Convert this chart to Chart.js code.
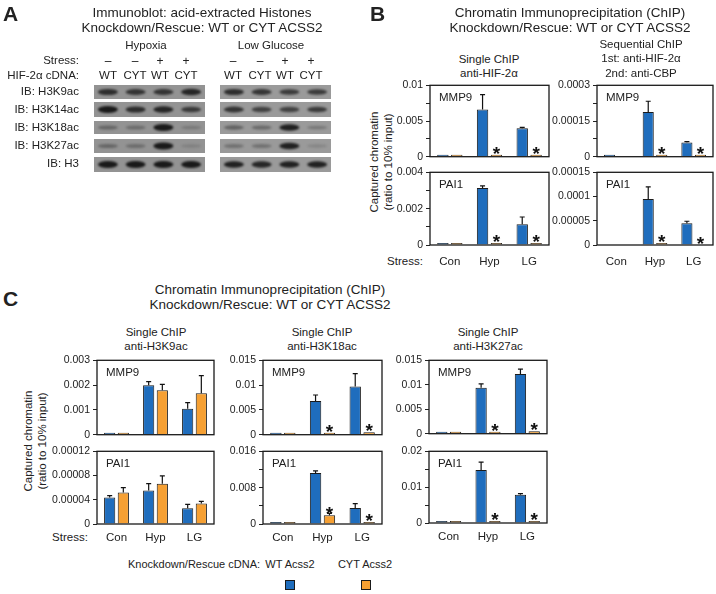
<!DOCTYPE html>
<html>
<head>
<meta charset="utf-8">
<script src="https://cdn.jsdelivr.net/npm/chart.js@4.4.1/dist/chart.umd.min.js"></script>
<style>
  body { margin: 0; background: #fff; }
  #fig { position: relative; width: 716px; height: 594px; overflow: hidden; font-family: "Liberation Sans", Arial, sans-serif; color: #222; }
  #fig canvas { position: absolute; }
  .t { position: absolute; white-space: nowrap; line-height: 1; }
</style>
</head>
<body>
<div id="fig">
  <canvas id="blot" width="340" height="180" style="left:0;top:0"></canvas>
</div>
<script>
// ---- data ----
var stressCats = ["Con", "Hyp", "LG"];

// panel A: band strength per lane (0..1), lanes WT, CYT, WT, CYT
var blotRows = ["IB: H3K9ac", "IB: H3K14ac", "IB: H3K18ac", "IB: H3K27ac", "IB: H3"];
var hypoxiaBands = [[0.8, 0.75, 0.75, 0.85], [0.95, 0.8, 0.85, 0.7], [0.35, 0.3, 0.95, 0.2], [0.35, 0.3, 0.95, 0.15], [1, 1, 1, 1]];
var glucoseBands = [[0.8, 0.75, 0.7, 0.7], [0.75, 0.65, 0.65, 0.7], [0.4, 0.35, 0.9, 0.25], [0.3, 0.3, 0.9, 0.15], [0.9, 0.85, 0.9, 0.9]];

// panel B: anti-HIF-2a single ChIP
var bHifMmp9WT = [0.00005, 0.0066, 0.004];
var bHifMmp9WTErr = [0, 0.0021, 0.0001];
var bHifMmp9CYT = [0.00005, 0.0001, 0.00015];
var bHifMmp9Ticks = ["0", "0.005", "0.01"];
var bHifPai1WT = [0.00003, 0.00313, 0.00114];
var bHifPai1WTErr = [0, 0.00012, 0.0004];
var bHifPai1CYT = [0.00002, 0.00005, 0.00002];
var bHifPai1Ticks = ["0", "0.002", "0.004"];
// panel B: sequential ChIP HIF-2a then CBP
var bSeqMmp9WT = [0.000003, 0.000188, 0.00006];
var bSeqMmp9WTErr = [0, 0.000045, 0.000003];
var bSeqMmp9CYT = [null, 0.000003, 0.000002];
var bSeqMmp9Ticks = ["0", "0.00015", "0.0003"];
var bSeqPai1WT = [null, 0.000095, 0.000045];
var bSeqPai1WTErr = [0, 0.000025, 0.000004];
var bSeqPai1CYT = [null, 0.000003, null];
var bSeqPai1Ticks = ["0", "0.00005", "0.0001", "0.00015"];

// panel C: histone acetylation ChIP
var cK9Mmp9WT = [0.00002, 0.00199, 0.00105];
var cK9Mmp9WTErr = [0, 0.00015, 0.00024];
var cK9Mmp9CYT = [0.00002, 0.00179, 0.00167];
var cK9Mmp9CYTErr = [0, 0.00024, 0.00071];
var cK9Mmp9Ticks = ["0", "0.001", "0.002", "0.003"];
var cK9Pai1WT = [0.0000438, 0.0000551, 0.000026];
var cK9Pai1WTErr = [0.000003, 0.0000114, 0.0000064];
var cK9Pai1CYT = [0.0000519, 0.0000665, 0.000034];
var cK9Pai1CYTErr = [0.000008, 0.000013, 0.0000033];
var cK9Pai1Ticks = ["0", "0.00004", "0.00008", "0.00012"];

var cK18Mmp9WT = [0.0001, 0.0068, 0.0097];
var cK18Mmp9WTErr = [0, 0.0012, 0.0026];
var cK18Mmp9CYT = [0.0001, 0.0003, 0.0005];
var cK18Mmp9Ticks = ["0", "0.005", "0.01", "0.015"];
var cK18Pai1WT = [0.0001, 0.0112, 0.0035];
var cK18Pai1WTErr = [0, 0.0005, 0.001];
var cK18Pai1CYT = [0.0001, 0.00195, 0.0002];
var cK18Pai1CYTErr = [0, 0.0004, 0];
var cK18Pai1Ticks = ["0", "0.008", "0.016"];

var cK27Mmp9WT = [0.00005, 0.0094, 0.0122];
var cK27Mmp9WTErr = [0, 0.0008, 0.001];
var cK27Mmp9CYT = [0.00005, 0.0001, 0.0005];
var cK27Mmp9Ticks = ["0", "0.005", "0.01", "0.015"];
var cK27Pai1WT = [0.0001, 0.0148, 0.0079];
var cK27Pai1WTErr = [0, 0.0022, 0.0003];
var cK27Pai1CYT = [0.0001, 0.0003, 0.0005];
var cK27Pai1Ticks = ["0", "0.01", "0.02"];

var noErr = [0, 0, 0];
var starsHypLG = [false, true, true];
var noStars = [false, false, false];

var BLUE = "#1f6dbd", ORANGE = "#f6a033", EDGE = "#1c1c1c";
var fig = document.getElementById("fig");

function txt(s, x, y, size, align, weight) {
  var d = document.createElement("div");
  d.className = "t";
  d.textContent = s;
  d.style.left = x + "px";
  d.style.top = y + "px";
  d.style.fontSize = size + "px";
  if (weight) d.style.fontWeight = weight;
  var tx = align == "right" ? "-100%" : align == "left" ? "0" : "-50%";
  d.style.transform = "translate(" + tx + ",-50%)";
  fig.appendChild(d);
  return d;
}

function ytitle(x, y) {
  var d = document.createElement("div");
  d.className = "t";
  d.innerHTML = "Captured chromatin<br>(ratio to 10% input)";
  d.style.cssText += "left:" + x + "px;top:" + y + "px;font-size:11.5px;line-height:14px;text-align:center;transform:translate(-50%,-50%) rotate(-90deg)";
  fig.appendChild(d);
}

// ---- panel A, the blot ----
function drawBlot() {
  var ctx = document.getElementById("blot").getContext("2d");
  var rowsY = [[85, 99], [102, 117], [121, 134], [139, 153], [157, 172]];
  var blocks = [{ l: 94, r: 205, bands: hypoxiaBands, bg: "#939393" }, { l: 220, r: 331, bands: glucoseBands, bg: "#9a9a9a" }];
  blocks.forEach(function (b) {
    rowsY.forEach(function (ry, ri) {
      ctx.filter = "none";
      ctx.fillStyle = b.bg;
      ctx.fillRect(b.l, ry[0], b.r - b.l, ry[1] - ry[0]);
      ctx.save();
      ctx.beginPath(); ctx.rect(b.l, ry[0], b.r - b.l, ry[1] - ry[0]); ctx.clip();
      ctx.filter = "blur(1.2px)";
      var w = (b.r - b.l) / 4;
      b.bands[ri].forEach(function (v, li) {
        var cx = b.l + (li + 0.5) * w, cy = (ry[0] + ry[1]) / 2;
        ctx.fillStyle = "rgba(25,25,25," + Math.min(1, v * 1.05) + ")";
        ctx.beginPath();
        ctx.ellipse(cx, cy, 10, 1.3 + 2.2 * v, 0, 0, Math.PI * 2);
        ctx.fill();
      });
      ctx.restore();
    });
  });
  var lanes = [[108, 135, 160, 186], [233, 260, 285, 311]];
  var signs = ["\u2013", "\u2013", "+", "+"], cdna = ["WT", "CYT", "WT", "CYT"];
  lanes.forEach(function (ls) {
    ls.forEach(function (x, i) {
      txt(signs[i], x, 61, 12);
      txt(cdna[i], x, 76, 11.5);
    });
  });
  txt("Stress:", 79, 61, 11.5, "right");
  txt("HIF-2\u03b1 cDNA:", 79, 76, 11.5, "right");
  var ys = [92, 110, 128, 146, 164];
  blotRows.forEach(function (r, i) { txt(r, 79, ys[i], 11.5, "right"); });
  txt("Hypoxia", 146, 46, 11.5);
  txt("Low Glucose", 271, 46, 11.5);
}

// ---- bar panels ----
var decor = {
  id: "decor",
  afterDatasetsDraw: function (chart) {
    var ctx = chart.ctx, ys = chart.scales.y;
    chart.data.datasets.forEach(function (ds, di) {
      var meta = chart.getDatasetMeta(di);
      meta.data.forEach(function (bar, i) {
        var v = ds.data[i];
        var e = ds.err ? ds.err[i] : 0;
        ctx.save();
        if (v != null && e > 0) {
          var y0 = ys.getPixelForValue(v), y1 = ys.getPixelForValue(v + e);
          ctx.strokeStyle = "#111"; ctx.lineWidth = 1.2;
          ctx.beginPath();
          ctx.moveTo(bar.x, y0); ctx.lineTo(bar.x, y1);
          ctx.moveTo(bar.x - 2.5, y1); ctx.lineTo(bar.x + 2.5, y1);
          ctx.stroke();
        }
        if (ds.stars && ds.stars[i]) {
          var top = v != null ? Math.min(bar.y, bar.base) : ys.getPixelForValue(0);
          ctx.fillStyle = "#111";
          ctx.font = "bold 19px 'Liberation Sans', Arial";
          ctx.textAlign = "center";
          ctx.textBaseline = "alphabetic";
          ctx.fillText("*", bar.x, top + 5);
        }
        ctx.restore();
      });
    });
  },
  afterDraw: function (chart) {
    var a = chart.chartArea, ctx = chart.ctx;
    ctx.save();
    ctx.strokeStyle = "#1a1a1a"; ctx.lineWidth = 1.3;
    ctx.strokeRect(a.left, a.top, a.right - a.left, a.bottom - a.top);
    ctx.fillStyle = "#222";
    ctx.font = "11.5px 'Liberation Sans', Arial";
    ctx.textBaseline = "middle";
    ctx.fillText(chart.options.gene, a.left + 9, a.top + 13);
    ctx.restore();
  }
};

var YW = 56;
function barPanel(box, yMax, step, tickLabels, gene, wt, wtErr, cyt, cytErr, stars, showX, xPad) {
  var c = document.createElement("canvas");
  var w = box.r - box.l + YW + 4;
  var h = box.b - box.t + 8 + (showX ? 26 : 8);
  c.width = w; c.height = h;
  c.style.left = (box.l - YW) + "px";
  c.style.top = (box.t - 8) + "px";
  fig.appendChild(c);
  new Chart(c.getContext("2d"), {
    type: "bar",
    data: {
      labels: stressCats,
      datasets: [
        { data: wt, err: wtErr, backgroundColor: BLUE, borderColor: EDGE, borderWidth: 1, minBarLength: 2 },
        { data: cyt, err: cytErr, stars: stars, backgroundColor: ORANGE, borderColor: EDGE, borderWidth: 1, minBarLength: 2 }
      ]
    },
    options: {
      responsive: false,
      animation: false,
      devicePixelRatio: 1,
      gene: gene,
      categoryPercentage: 0.7,
      barPercentage: 0.82,
      layout: { padding: { top: 8, right: 4, bottom: showX ? 0 : 8, left: 0 } },
      plugins: { legend: { display: false }, tooltip: { enabled: false } },
      scales: {
        x: {
          display: showX,
          grid: { display: false, drawTicks: false },
          border: { display: false },
          ticks: { color: "#222", font: { family: "'Liberation Sans', Arial", size: 11.5 }, padding: xPad, maxRotation: 0 },
          afterFit: function (s) { s.height = showX ? 26 : 0; }
        },
        y: {
          min: 0, max: yMax,
          border: { display: false },
          grid: { drawOnChartArea: false, drawTicks: true, tickLength: 4, color: "#222", lineWidth: 1 },
          ticks: {
            stepSize: step, autoSkip: false, padding: 3, color: "#222",
            font: { family: "'Liberation Sans', Arial", size: 10.5 },
            callback: function (v) {
              for (var k = 0; k < tickLabels.length; k++) {
                if (Math.abs(Number(tickLabels[k]) - v) < step * 0.01) return tickLabels[k];
              }
              return "";
            }
          },
          afterFit: function (s) { s.width = YW; }
        }
      }
    },
    plugins: [decor]
  });
}

drawBlot();

// titles
txt("A", 3, 13, 21, "left", "bold");
txt("Immunoblot: acid-extracted Histones", 202, 13, 13.5);
txt("Knockdown/Rescue: WT or CYT ACSS2", 202, 28, 13.5);
txt("B", 370, 13, 21, "left", "bold");
txt("Chromatin Immunoprecipitation (ChIP)", 570, 13, 13.5);
txt("Knockdown/Rescue: WT or CYT ACSS2", 570, 28, 13.5);
txt("Single ChIP", 489, 60, 11.5);
txt("anti-HIF-2\u03b1", 489, 74, 11.5);
txt("Sequential ChIP", 641, 45, 11.5);
txt("1st: anti-HIF-2\u03b1", 641, 59, 11.5);
txt("2nd: anti-CBP", 641, 74, 11.5);
ytitle(381, 162);
txt("Stress:", 405, 262, 11.5);

txt("C", 3, 298, 21, "left", "bold");
txt("Chromatin Immunoprecipitation (ChIP)", 270, 290, 13.5);
txt("Knockdown/Rescue: WT or CYT ACSS2", 270, 305, 13.5);
var colTitles = [["anti-H3K9ac", 156], ["anti-H3K18ac", 322], ["anti-H3K27ac", 488]];
colTitles.forEach(function (ct) {
  txt("Single ChIP", ct[1], 333, 11.5);
  txt(ct[0], ct[1], 347, 11.5);
});
ytitle(35, 441);
txt("Stress:", 70, 538, 11.5);

// legend
txt("Knockdown/Rescue cDNA:", 194, 564, 11, "center");
txt("WT Acss2", 290, 564, 11);
txt("CYT Acss2", 365, 564, 11);
[[290, BLUE], [366, ORANGE]].forEach(function (sq) {
  var d = document.createElement("div");
  d.style.cssText = "position:absolute;left:" + (sq[0] - 5) + "px;top:580px;width:8px;height:8px;border:1.5px solid #1a1a1a;background:" + sq[1];
  fig.appendChild(d);
});

// panel B charts
barPanel({ l: 430, r: 549, t: 84, b: 158 }, 0.01, 0.0025, bHifMmp9Ticks, "MMP9", bHifMmp9WT, bHifMmp9WTErr, bHifMmp9CYT, noErr, starsHypLG, false, 0);
barPanel({ l: 430, r: 549, t: 171, b: 245 }, 0.004, 0.001, bHifPai1Ticks, "PAI1", bHifPai1WT, bHifPai1WTErr, bHifPai1CYT, noErr, starsHypLG, true, 10);
barPanel({ l: 597, r: 713, t: 84, b: 158 }, 0.0003, 0.000075, bSeqMmp9Ticks, "MMP9", bSeqMmp9WT, bSeqMmp9WTErr, bSeqMmp9CYT, noErr, starsHypLG, false, 0);
barPanel({ l: 597, r: 713, t: 171, b: 245 }, 0.00015, 0.00005, bSeqPai1Ticks, "PAI1", bSeqPai1WT, bSeqPai1WTErr, bSeqPai1CYT, noErr, starsHypLG, true, 10);

// panel C charts
barPanel({ l: 97, r: 214, t: 359, b: 436 }, 0.003, 0.001, cK9Mmp9Ticks, "MMP9", cK9Mmp9WT, cK9Mmp9WTErr, cK9Mmp9CYT, cK9Mmp9CYTErr, noStars, false, 0);
barPanel({ l: 97, r: 214, t: 450, b: 524 }, 0.00012, 0.00004, cK9Pai1Ticks, "PAI1", cK9Pai1WT, cK9Pai1WTErr, cK9Pai1CYT, cK9Pai1CYTErr, noStars, true, 7);
barPanel({ l: 263, r: 382, t: 359, b: 436 }, 0.015, 0.005, cK18Mmp9Ticks, "MMP9", cK18Mmp9WT, cK18Mmp9WTErr, cK18Mmp9CYT, noErr, starsHypLG, false, 0);
barPanel({ l: 263, r: 382, t: 450, b: 524 }, 0.016, 0.004, cK18Pai1Ticks, "PAI1", cK18Pai1WT, cK18Pai1WTErr, cK18Pai1CYT, cK18Pai1CYTErr, starsHypLG, true, 7);
barPanel({ l: 429, r: 547, t: 359, b: 435 }, 0.015, 0.005, cK27Mmp9Ticks, "MMP9", cK27Mmp9WT, cK27Mmp9WTErr, cK27Mmp9CYT, noErr, starsHypLG, false, 0);
barPanel({ l: 429, r: 547, t: 450, b: 523 }, 0.02, 0.005, cK27Pai1Ticks, "PAI1", cK27Pai1WT, cK27Pai1WTErr, cK27Pai1CYT, noErr, starsHypLG, true, 7);
</script>
</body>
</html>
